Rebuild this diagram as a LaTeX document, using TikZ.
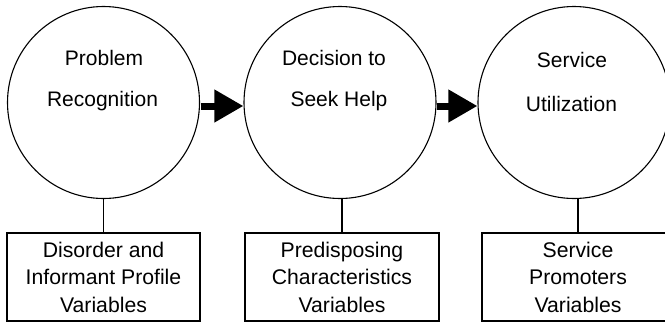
\documentclass[tikz,border=0pt]{standalone}
\usepackage{fontspec}
\setmainfont{Liberation Sans}
\usetikzlibrary{arrows.meta}
\begin{document}
\begin{tikzpicture}[x=1pt,y=-1pt,
  stage/.style={circle,draw,line width=1.1pt,inner sep=0pt,minimum size=192pt},
  varbox/.style={rectangle,draw,line width=1.1pt,minimum width=193pt,minimum height=88pt,
    align=center,inner sep=0pt,font=\fontsize{21.2}{27.5}\selectfont},
  lbl/.style={anchor=base,inner sep=0pt,font=\fontsize{21}{24}\selectfont},
  flow/.style={line width=7pt,-{Triangle[length=29pt,width=31pt]}},
  link/.style={line width=1.1pt}]
\useasboundingbox (0,0) rectangle (665,322);
\clip (0,0) rectangle (665,322);
% stages
\node[stage] (c1) at (103.5,102.5) {};
\node[stage] (c2) at (340,102.5) {};
\node[stage] (c3) at (574,102.5) {};
\node[lbl] (t1a) at (104,65) {Problem};
\node[lbl] (t1b) at (102.5,106) {Recognition};
\node[lbl] (t2a) at (334,65) {Decision to};
\node[lbl] (t2b) at (339,106) {Seek Help};
\node[lbl] (t3a) at (572,67) {Service};
\node[lbl] (t3b) at (571.5,111) {Utilization};
% variable boxes
\node[varbox] (b1) at (103.5,277) {Disorder and\\Informant Profile\\Variables};
\node[varbox,minimum width=194pt] (b2) at (342,277) {Predisposing\\Characteristics\\Variables};
\node[varbox,minimum width=192pt] (b3) at (578,277) {Service\\Promoters\\Variables};
% links
\draw[link] (b1.north) -- (b1.north |- c1.south);
\draw[link] (b2.north) -- (b2.north |- c2.south);
\draw[link] (b3.north) -- (b3.north |- c3.south);
% arrows
\draw[flow] ([xshift=1pt,yshift=-3.5pt]c1.east) -- ([yshift=-3.5pt]c2.west);
\draw[flow] ([xshift=0pt,yshift=-3.5pt]c2.east) -- ([yshift=-3.5pt]c3.west);
\end{tikzpicture}
\end{document}
